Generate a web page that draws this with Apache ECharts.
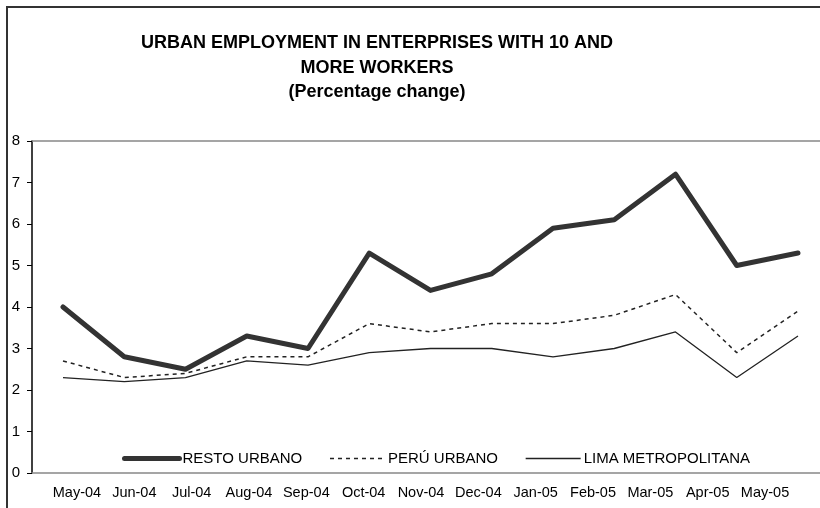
<!DOCTYPE html>
<html><head><meta charset="utf-8">
<script src="https://cdn.jsdelivr.net/npm/echarts@6/dist/echarts.min.js"></script>
<style>html,body{margin:0;padding:0;background:#fff}#c{width:820px;height:508px}</style>
</head><body><div id="c"></div>
<script>
const categories = ['May-04','Jun-04','Jul-04','Aug-04','Sep-04','Oct-04','Nov-04','Dec-04','Jan-05','Feb-05','Mar-05','Apr-05','May-05'];
const restoUrbano = [4.0, 2.8, 2.5, 3.3, 3.0, 5.3, 4.4, 4.8, 5.9, 6.1, 7.2, 5.0, 5.3];
const peruUrbano = [2.7, 2.3, 2.4, 2.8, 2.8, 3.6, 3.4, 3.6, 3.6, 3.8, 4.3, 2.9, 3.9];
const limaMetropolitana = [2.3, 2.2, 2.3, 2.7, 2.6, 2.9, 3.0, 3.0, 2.8, 3.0, 3.4, 2.3, 3.3];
const yTicks = [0,1,2,3,4,5,6,7,8];

const FONT = 'Liberation Sans, Arial, sans-serif';
const chart = echarts.init(document.getElementById('c'));
chart.setOption({
  backgroundColor: '#fff',
  animation: false,
  title: {
    text: 'URBAN EMPLOYMENT IN ENTERPRISES WITH 10 AND\nMORE WORKERS\n(Percentage change)',
    left: 372, top: 26, textAlign: 'center',
    textStyle: {fontFamily: FONT, fontSize: 18, fontWeight: 'bold', color: '#000', lineHeight: 24.5}
  },
  legend: {
    left: 117, top: 446, itemWidth: 55, itemHeight: 14, itemGap: 27,
    itemStyle: {opacity: 0},
    textStyle: {fontFamily: FONT, fontSize: 15, color: '#000', padding: [0,0,0,-2]},
    data: [
      {name: 'RESTO URBANO', lineStyle: {width: 5, color: '#333', cap: 'round'}},
      {name: 'PERÚ URBANO', lineStyle: {width: 1.5, color: '#222', type: [4,4]}},
      {name: 'LIMA METROPOLITANA', lineStyle: {width: 1.3, color: '#222'}}
    ]
  },
  grid: [
    {left: 32, right: 0, top: 141, bottom: 35},
    {left: 63, right: 22, top: 141, bottom: 35},
    {left: 48.3, right: 26.3, top: 141, bottom: 35}
  ],
  xAxis: [
    {type: 'category', gridIndex: 0, data: categories, position: 'bottom',
     axisLine: {lineStyle: {color: '#888', width: 1.5}}, axisTick: {show: false}, axisLabel: {show: false}},
    {type: 'category', gridIndex: 1, data: categories, boundaryGap: false, show: false},
    {type: 'category', gridIndex: 2, data: categories, boundaryGap: true,
     axisLine: {show: false}, axisTick: {show: false},
     axisLabel: {fontFamily: FONT, fontSize: 14.5, color: '#000', margin: 12, interval: 0}},
    {type: 'category', gridIndex: 0, data: categories, position: 'top',
     axisLine: {onZero: false, lineStyle: {color: '#888', width: 1.5}}, axisTick: {show: false}, axisLabel: {show: false}}
  ],
  yAxis: [
    {type: 'value', gridIndex: 0, min: 0, max: 8, interval: 1,
     axisLine: {show: true, lineStyle: {color: '#000', width: 1.5}},
     axisTick: {show: true, length: 5, lineStyle: {color: '#000'}},
     splitLine: {show: false},
     axisLabel: {fontFamily: FONT, fontSize: 15, color: '#000', margin: 12,
       formatter: v => yTicks.includes(v) ? String(v) : ''}},
    {type: 'value', gridIndex: 1, min: 0, max: 8, show: false, splitLine: {show: false}},
    {type: 'value', gridIndex: 2, min: 0, max: 8, show: false, splitLine: {show: false}}
  ],
  series: [
    {name: 'RESTO URBANO', type: 'line', xAxisIndex: 1, yAxisIndex: 1, data: restoUrbano,
     symbol: 'none', color: '#333', lineStyle: {color: '#333', width: 5, cap: 'round', join: 'round'}},
    {name: 'PERÚ URBANO', type: 'line', xAxisIndex: 1, yAxisIndex: 1, data: peruUrbano,
     symbol: 'none', color: '#222', lineStyle: {color: '#222', width: 1.5, type: [4,4]}},
    {name: 'LIMA METROPOLITANA', type: 'line', xAxisIndex: 1, yAxisIndex: 1, data: limaMetropolitana,
     symbol: 'none', color: '#222', lineStyle: {color: '#222', width: 1.3}}
  ],
  graphic: [
    {type: 'polyline', shape: {points: [[7, 508], [7, 7], [820, 7]]},
     style: {stroke: '#333', lineWidth: 2, fill: null}}
  ]
});
</script></body></html>
